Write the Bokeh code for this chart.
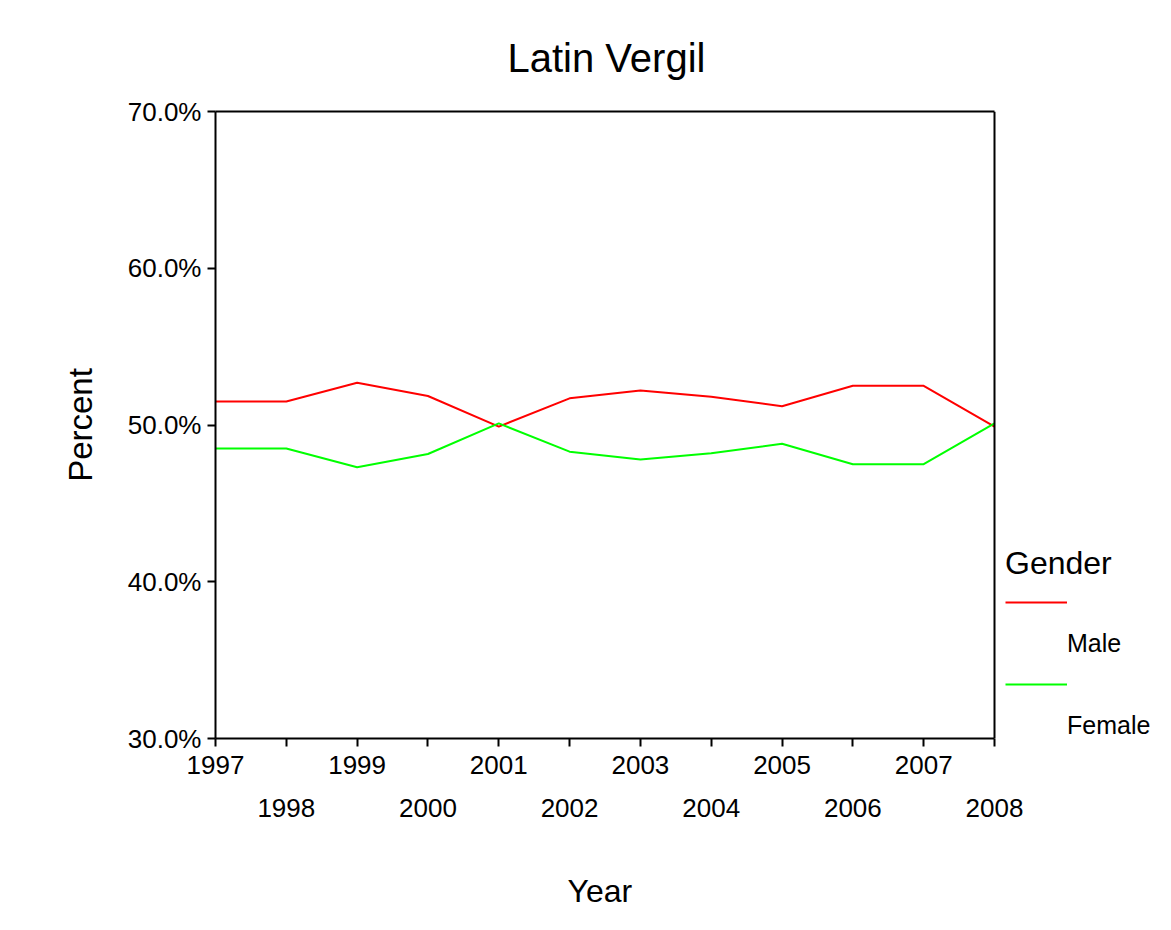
from bokeh.plotting import figure
from bokeh.models import (Range1d, FixedTicker, LinearAxis, PrintfTickFormatter,
                          Legend, LegendItem, ColumnDataSource, Span, Title)
from bokeh.embed import file_html
from bokeh.resources import INLINE

# ---- data ----
years = [1997, 1998, 1999, 2000, 2001, 2002, 2003, 2004, 2005, 2006, 2007, 2008]
male = [51.5, 51.5, 52.7, 51.85, 49.9, 51.7, 52.2, 51.8, 51.2, 52.5, 52.5, 49.9]
female = [48.5, 48.5, 47.3, 48.15, 50.1, 48.3, 47.8, 48.2, 48.8, 47.5, 47.5, 50.1]
y_ticks = [30, 40, 50, 60, 70]
even_years = [y for y in years if y % 2 == 0]
series_names = ["Male", "Female"]
series_colors = ["#FF0000", "#00FF00"]

FONT = "Liberation Sans"

# ---- layout (pixels) ----
W, H = 1155, 914
LEFT, RIGHT_EDGE, TOP, BOTTOM = 215, 994, 111, 738
x_lo, x_hi = years[0], years[-1]
px_per_year = (RIGHT_EDGE - LEFT) / (x_hi - x_lo)
x_end = x_hi + (W - RIGHT_EDGE) / px_per_year   # frame continues to the canvas edge (legend area)

p = figure(width=W, height=H, output_backend="svg", toolbar_location=None,
           x_range=Range1d(x_lo, x_end), y_range=Range1d(30, 70),
           min_border_left=LEFT, min_border_right=0,
           min_border_top=TOP, min_border_bottom=H - BOTTOM)
p.background_fill_color = "white"
p.border_fill_color = "white"
p.grid.visible = False
p.outline_line_color = None

# title
p.title.text = "Latin Vergil"
p.title.align = "left"
p.title.offset = 292
p.title.text_font = FONT
p.title.text_font_size = "40px"
p.title.text_font_style = "normal"
p.title.text_color = "black"
p.title.standoff = 64

# lines
src = ColumnDataSource(dict(year=years, male=male, female=female))
r_male = p.line("year", "male", source=src, line_color=series_colors[0], line_width=2)
r_female = p.line("year", "female", source=src, line_color=series_colors[1], line_width=2)
# invisible helpers so legend labels sit on their own row, as in the reference
r_blank1 = p.line("year", "male", source=src, line_alpha=0)
r_blank2 = p.line("year", "female", source=src, line_alpha=0)

# right border of the plot box
p.add_layout(Span(location=x_hi, dimension="height", line_color="black", line_width=2))

# y axis
ya = p.yaxis[0]
ya.ticker = FixedTicker(ticks=y_ticks)
ya.formatter = PrintfTickFormatter(format="%.1f%%")
ya.minor_tick_line_color = None
ya.major_tick_out = 8
ya.major_tick_in = 0
ya.major_tick_line_width = 2
ya.axis_line_width = 2
ya.axis_line_color = "black"
ya.major_label_text_font = FONT
ya.major_label_text_font_size = "26px"
ya.major_label_text_color = "black"
ya.major_label_standoff = 6
ya.axis_label = "Percent"
ya.axis_label_text_font = FONT
ya.axis_label_text_font_size = "33px"
ya.axis_label_text_font_style = "normal"
ya.axis_label_text_color = "black"
ya.axis_label_standoff = 26

# x axis row 1 (all ticks, odd-year labels)
xa = p.xaxis[0]
xa.bounds = (x_lo, x_hi)
xa.ticker = FixedTicker(ticks=years)
xa.major_label_overrides = {y: "" for y in even_years}
xa.minor_tick_line_color = None
xa.major_tick_out = 8
xa.major_tick_in = 0
xa.major_tick_line_width = 2
xa.axis_line_width = 2
xa.axis_line_color = "black"
xa.major_label_text_font = FONT
xa.major_label_text_font_size = "26px"
xa.major_label_text_color = "black"
xa.major_label_standoff = 9

# x axis row 2 (even-year labels); its blank axis label only adds spacing
xa2 = LinearAxis(ticker=FixedTicker(ticks=even_years), bounds=(x_lo, x_hi))
xa2.axis_line_color = None
xa2.major_tick_line_color = None
xa2.minor_tick_line_color = None
xa2.major_tick_out = 0
xa2.major_tick_in = 0
xa2.major_label_text_font = FONT
xa2.major_label_text_font_size = "26px"
xa2.major_label_text_color = "black"
xa2.major_label_standoff = 22
xa2.axis_label = " "
xa2.axis_label_text_font_size = "10px"
xa2.axis_label_standoff = 33
p.add_layout(xa2, "below")

# x axis title, centred under the plot box
p.add_layout(Title(text="Year", align="left", offset=352, standoff=8,
                   text_font=FONT, text_font_size="32px", text_font_style="normal",
                   text_color="black"), "below")

# top border of the plot box
xtop = LinearAxis(ticker=FixedTicker(ticks=[]), bounds=(x_lo, x_hi))
xtop.axis_line_width = 2
xtop.axis_line_color = "black"
xtop.major_tick_line_color = None
xtop.minor_tick_line_color = None
xtop.major_tick_out = 0
xtop.major_tick_in = 0
xtop.major_label_standoff = 0
p.add_layout(xtop, "above")

# legend
legend = Legend(items=[
    LegendItem(label=" ", renderers=[r_male]),
    LegendItem(label=series_names[0], renderers=[r_blank1]),
    LegendItem(label=" ", renderers=[r_female]),
    LegendItem(label=series_names[1], renderers=[r_blank2]),
])
legend.title = "Gender"
legend.title_text_font = FONT
legend.title_text_font_size = "32px"
legend.title_text_font_style = "normal"
legend.title_text_color = "black"
legend.title_standoff = 5
legend.label_text_font = FONT
legend.label_text_font_size = "25px"
legend.label_text_color = "black"
legend.glyph_width = 62
legend.glyph_height = 30
legend.label_height = 30
legend.label_standoff = 0
legend.spacing = 11
legend.padding = 0
legend.margin = 0
legend.border_line_color = None
legend.background_fill_alpha = 0
legend.location = (1005 - LEFT, BOTTOM - 740)
p.add_layout(legend, "center")

open("out.html", "w").write(file_html(p, INLINE))
